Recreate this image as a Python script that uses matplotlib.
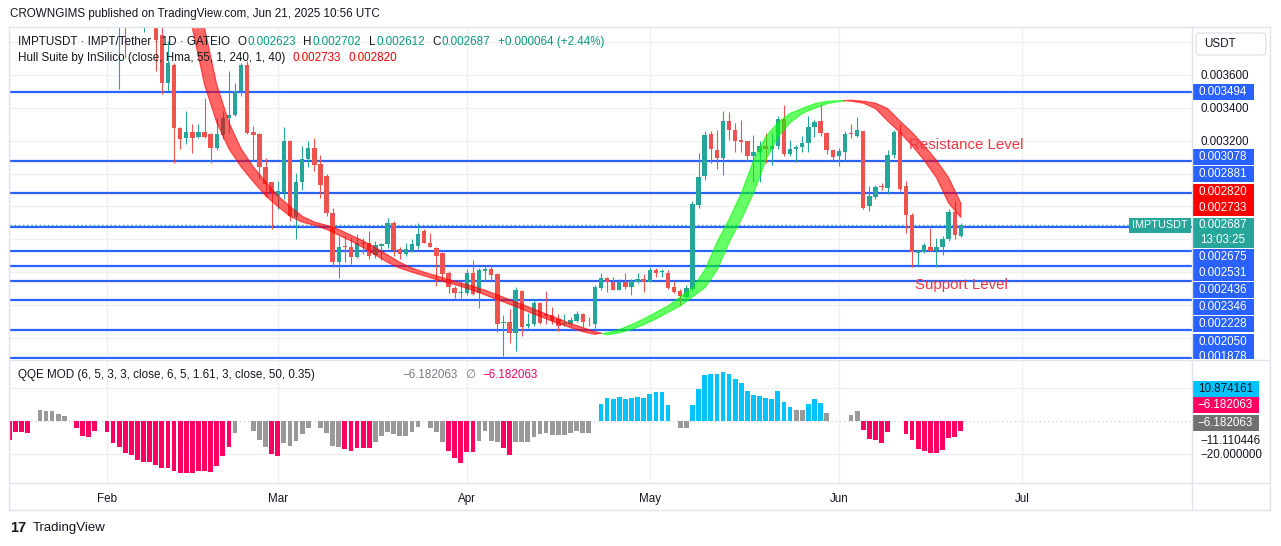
import numpy as np
import matplotlib.pyplot as plt
from matplotlib.patches import Rectangle, FancyBboxPatch

plt.rcParams['font.family'] = ['Liberation Sans', 'DejaVu Sans']

# --- data (days counted from 1 Feb 2025, prices in 1e-6 USDT) ---
candle_days = np.arange(2, 141)
opens = [3950, 4050, 3950, 4100, 4000, 4060, 4000, 3844, 3552, 3663,
         3279, 3214, 3254, 3222, 3254, 3238, 3156, 3235, 3335, 3356,
         3501, 3663, 3254, 3238, 3041, 2946, 2865, 2885, 3198, 2738,
         2946, 3087, 3158, 3055, 2984, 2762, 2463, 2562, 2556, 2493,
         2580, 2576, 2503, 2560, 2570, 2697, 2540, 2509, 2535, 2560,
         2651, 2580, 2550, 2519, 2394, 2303, 2273, 2273, 2394, 2273,
         2408, 2418, 2388, 2091, 2099, 2030, 2287, 2075, 2085, 2212,
         2146, 2140, 2115, 2085, 2085, 2105, 2146, 2099, 2085, 2301,
         2362, 2342, 2293, 2342, 2307, 2342, 2358, 2342, 2414, 2402,
         2398, 2307, 2287, 2247, 2297, 2806, 2984, 3242, 3145, 3095,
         3321, 3267, 3202, 3196, 3105, 3129, 3170, 3150, 3166, 3331,
         3121, 3150, 3160, 3186, 3283, 3317, 3247, 3142, 3105, 3129,
         3247, 3230, 3256, 2802, 2859, 2923, 2913, 3115, 3250, 2927,
         2746, 2519, 2523, 2556, 2535, 2556, 2600, 2768, 2623]
highs = [4100, 4150, 4200, 4250, 4100, 4150, 4020, 3900, 3804, 3673,
         3285, 3380, 3299, 3303, 3461, 3245, 3339, 3380, 3626, 3552,
         3673, 3683, 3289, 3245, 3097, 2950, 2956, 3283, 3205, 3006,
         3168, 3198, 3218, 3115, 2995, 2790, 2617, 2620, 2610, 2630,
         2610, 2649, 2590, 2576, 2732, 2711, 2556, 2576, 2600, 2697,
         2664, 2636, 2556, 2525, 2408, 2317, 2338, 2418, 2475, 2424,
         2442, 2442, 2392, 2140, 2176, 2307, 2293, 2152, 2236, 2220,
         2287, 2186, 2146, 2146, 2125, 2166, 2152, 2125, 2321, 2398,
         2368, 2368, 2358, 2392, 2358, 2398, 2388, 2434, 2428, 2418,
         2414, 2347, 2297, 2321, 2832, 3125, 3256, 3256, 3267, 3378,
         3372, 3307, 3327, 3200, 3236, 3196, 3247, 3247, 3347, 3418,
         3206, 3176, 3230, 3352, 3323, 3424, 3250, 3150, 3156, 3256,
         3303, 3344, 3260, 2923, 2933, 2944, 3142, 3267, 3303, 2953,
         2758, 2535, 2580, 2671, 2610, 2617, 2782, 2832, 2702]
lows = [3511, 3703, 3900, 3920, 3860, 3950, 3624, 3481, 3501, 3067,
        3147, 3178, 3127, 3214, 3218, 3067, 3144, 3208, 3249, 3350,
        3471, 3238, 3077, 2966, 2855, 2663, 2784, 2844, 2713, 2602,
        2901, 3041, 3016, 2853, 2742, 2429, 2362, 2463, 2449, 2489,
        2509, 2479, 2489, 2475, 2550, 2499, 2479, 2499, 2523, 2540,
        2576, 2553, 2313, 2347, 2273, 2241, 2241, 2261, 2261, 2180,
        2347, 2353, 2038, 1893, 1970, 1923, 2010, 2059, 2075, 2085,
        2085, 2085, 2044, 2075, 2075, 2095, 2065, 2075, 2059, 2293,
        2277, 2290, 2290, 2297, 2261, 2334, 2277, 2338, 2368, 2368,
        2297, 2273, 2200, 2236, 2293, 2792, 2960, 3065, 3029, 2994,
        3206, 3129, 3129, 3075, 2947, 2947, 3065, 3049, 3150, 3109,
        3105, 3069, 3129, 3129, 3222, 3230, 3121, 3085, 3044, 3075,
        3216, 3222, 2786, 2772, 2843, 2899, 2873, 3095, 2893, 2640,
        2429, 2442, 2515, 2526, 2434, 2503, 2590, 2600, 2612]
closes = [4050, 3950, 4100, 4000, 4060, 4000, 3814, 3552, 3673, 3279,
          3208, 3254, 3219, 3254, 3222, 3158, 3238, 3339, 3356, 3501,
          3663, 3249, 3235, 3041, 2936, 2885, 2895, 3198, 2744, 2946,
          3091, 3158, 3053, 2933, 2762, 2459, 2556, 2556, 2495, 2580,
          2570, 2499, 2564, 2570, 2701, 2535, 2509, 2540, 2570, 2630,
          2580, 2556, 2499, 2388, 2307, 2273, 2281, 2394, 2267, 2416,
          2418, 2382, 2085, 2095, 2030, 2293, 2065, 2085, 2212, 2091,
          2136, 2105, 2075, 2091, 2111, 2146, 2095, 2095, 2307, 2362,
          2342, 2293, 2342, 2307, 2347, 2358, 2342, 2414, 2398, 2404,
          2301, 2281, 2253, 2301, 2812, 2980, 3236, 3150, 3095, 3321,
          3262, 3196, 3194, 3109, 3129, 3170, 3150, 3170, 3331, 3121,
          3150, 3162, 3186, 3283, 3311, 3247, 3142, 3101, 3135, 3242,
          3242, 3262, 2792, 2863, 2919, 2917, 3115, 3250, 2907, 2746,
          2524, 2529, 2564, 2529, 2556, 2604, 2768, 2624, 2687]

# Hull Suite line, read every second day
hull_days = np.arange(12, 141, 2)
hull_vals = [4150, 3885, 3540, 3310, 3150, 3040, 2950, 2865, 2800, 2740,
             2705, 2685, 2660, 2625, 2590, 2550, 2505, 2460, 2425, 2400,
             2378, 2355, 2335, 2314, 2290, 2262, 2233, 2205, 2176, 2145,
             2117, 2088, 2063, 2038, 2022, 2035, 2055, 2085, 2120, 2160,
             2200, 2255, 2310, 2420, 2590, 2730, 2890, 3090, 3230, 3315,
             3370, 3400, 3428, 3442, 3446, 3440, 3428, 3395, 3320, 3250,
             3170, 3080, 2975, 2820, 2733]

levels = [3494, 3078, 2881, 2675, 2531, 2436, 2346, 2228, 2050, 1878]

# QQE MOD histogram (0 = no bar)
qqe_days = np.arange(-16, 141)
qqe_vals = [-11.4, -6.4, -6.4, -7.0, 0, 6.6, 6.2, 6.2, 4.2, 3.0,
            0, -4.4, -9.0, -10.0, -5.8, 0, -6.5, -13.5, -16.0, -19.2,
            -20.6, -23.6, -24.6, -24.6, -26.7, -28.7, -28.7, -30.3, -31.3, -31.3,
            -31.3, -30.3, -30.3, -30.7, -27.3, -21.2, -15.6, -7.5, 0, 0,
            -6.0, -11.5, -16.0, -20.2, -21.2, -13.5, -15.0, -12.0, -7.9, -4.4,
            0, -4.4, -7.5, -15.0, -16.0, -17.2, -18.0, -16.6, -16.6, -16.6,
            -12.5, -9.0, -6.5, -7.9, -9.0, -9.0, -6.5, -3.4, 0, -4.4,
            -6.5, -12.5, -18.0, -22.6, -25.3, -18.6, -18.6, -12.0, -6.0, -12.0,
            -12.5, -16.6, -20.6, -12.9, -12.9, -12.5, -9.5, -7.9, -7.5, -8.5,
            -8.5, -8.5, -7.5, -6.0, -7.0, -7.5, 0, 10.3, 14.0, 13.1,
            14.7, 13.1, 13.7, 14.3, 13.7, 16.2, 17.4, 17.4, 9.7, 0,
            -4.0, -4.0, 9.7, 19.4, 27.7, 28.7, 28.3, 29.7, 28.5, 25.5,
            23.2, 18.4, 15.8, 15.4, 14.0, 13.5, 18.4, 11.7, 8.7, 6.9,
            6.9, 10.3, 13.1, 11.1, 5.1, 0, 0, 0, 3.6, 6.3,
            -5.3, -10.9, -11.7, -13.1, -6.5, 0, 0, -7.7, -11.5, -17.2,
            -18.2, -19.4, -19.4, -17.4, -10.1, -9.5, -6.182063]
qqe_cats = ("pppp-ggggg" "-pppp-pppp" "pppppppppp" "pppppppg--" "gggppggggg"
            "-ggggppppp" "gggggggg-g" "ggpppppggg" "gppggggggg" "gggggg-bbb"
            "bbbbbbbbb-" "ggbbbbbbbb" "bbbbbbbbbg" "gbbbg---gg" "ppppp--ppp"
            "ppppppp")

month_days = [0, 28, 59, 89, 120, 150]
month_labels = ['Feb', 'Mar', 'Apr', 'May', 'Jun', 'Jul']

# --- colours ---
UP, DOWN = '#26A69A', '#EF5350'
BLUE = '#2962FF'
GRID = '#F0F0F0'
BORDER = '#E0E3EB'
TXT = '#131722'
TEAL = '#089981'
qqe_colors = {'p': '#FF0062', 'g': '#999999', 'b': '#00C3FF', '-': 'none'}
FS = 8.4

W, H = 1281, 546
fig = plt.figure(figsize=(W / 100, H / 100), dpi=100)


def box(px0, py0, px1, py1):
    return [px0 / W, 1 - py1 / H, (px1 - px0) / W, (py1 - py0) / H]


# --- price pane ---
ax = fig.add_axes(box(10, 28, 1192, 359))
ax.set_xlim(-15.9, 177.9)
ax.set_ylim(1872e-6, 3885e-6)
for s in ax.spines.values():
    s.set_visible(False)
ax.set_axisbelow(True)
ax.set_xticks(month_days)
ax.set_yticks(np.arange(2000, 3900, 200) * 1e-6)
ax.set_yticklabels(['0.%06d' % v if 3200 <= v <= 3600 else ''
                    for v in range(2000, 3900, 200)])
ax.yaxis.tick_right()
ax.tick_params(axis='y', length=0, pad=6, labelsize=FS, labelcolor=TXT)
ax.tick_params(axis='x', length=0, labelbottom=False)
ax.grid(True, color=GRID, lw=1)

for lv in levels:
    ax.axhline(lv * 1e-6, color=BLUE, lw=1.6, zorder=1)
ax.axhline(2687e-6, xmax=(1129 - 10) / 1182, color=UP, lw=1,
           ls=(0, (1, 2)), zorder=1.5)

o = np.array(opens) * 1e-6
hi = np.array(highs) * 1e-6
lo = np.array(lows) * 1e-6
c = np.array(closes) * 1e-6
cols = np.where(c >= o, UP, DOWN)
ax.vlines(candle_days, lo, hi, colors=cols, lw=0.8, zorder=2)
ax.bar(candle_days, np.maximum(np.abs(c - o), 4e-6), bottom=np.minimum(o, c),
       width=0.72, color=cols, lw=0, zorder=3)

hv = np.array(hull_vals) * 1e-6
hx, h_now, h_lag = hull_days[1:], hv[1:], hv[:-1]
rising = h_now >= h_lag
ax.fill_between(hx, h_now, h_lag, where=rising, interpolate=True,
                color='#00FF00', alpha=0.6, lw=0.9, zorder=4)
ax.fill_between(hx, h_now, h_lag, where=~rising, interpolate=True,
                color='#FF0000', alpha=0.6, lw=0.9, zorder=4)

ax.text(131.5, 3174e-6, 'Resistance Level', color='#F23645', fontsize=10.8,
        va='center', zorder=6)
ax.text(132.5, 2322e-6, 'Support Level', color='#F23645', fontsize=10.8,
        va='center', zorder=6)

# --- QQE pane ---
axq = fig.add_axes(box(10, 361, 1192, 483))
axq.set_xlim(-15.9, 177.9)
axq.set_ylim(-37.6, 36.4)
for s in axq.spines.values():
    s.set_visible(False)
axq.set_axisbelow(True)
axq.set_xticks(month_days)
axq.set_xticklabels(month_labels)
axq.tick_params(axis='x', length=0, pad=7, labelsize=FS, labelcolor=TXT)
axq.grid(True, axis='x', color=GRID, lw=1)
axq.yaxis.tick_right()
axq.set_yticks([-20, -11.110446])
axq.set_yticklabels(['\u221220.000000', '\u221211.110446'])
axq.tick_params(axis='y', length=0, pad=6, labelsize=FS, labelcolor=TXT)
for g in (20, -20):
    axq.axhline(g, color=GRID, lw=1, zorder=0)
axq.axhline(0, color='#D1D4DC', lw=1, ls=(0, (1, 2)), zorder=0.5)
axq.bar(qqe_days, qqe_vals, width=0.78,
        color=[qqe_colors[k] for k in qqe_cats], lw=0, zorder=2)

# --- overlay in pixel coordinates for frame, legends and scale tags ---
ov = fig.add_axes([0, 0, 1, 1])
ov.set_xlim(0, W)
ov.set_ylim(H, 0)
ov.axis('off')

for (x0, y0, x1, y1) in [(9, 27, 1270, 27), (9, 510, 1270, 510), (9, 27, 9, 510),
                         (1270, 27, 1270, 510), (1192, 27, 1192, 510),
                         (9, 360, 1270, 360), (9, 483, 1270, 483)]:
    ov.plot([x0, x1], [y0, y1], color=BORDER, lw=1)


def chain(x, y, parts):
    # parts: (text, colour, gap in points before it)
    t = ov.text(x, y, parts[0][0], color=parts[0][1], fontsize=FS, va='center')
    for s, col, gap in parts[1:]:
        t = ov.annotate(s, xy=(1, 0.5), xycoords=t, xytext=(gap, 0),
                        textcoords='offset points', va='center', ha='left',
                        color=col, fontsize=FS)


ov.text(10, 14, 'CROWNGIMS published on TradingView.com, Jun 21, 2025 10:56 UTC',
        fontsize=FS, color=TXT, va='center')

chain(18, 42, [('IMPTUSDT \u00b7 IMPT/Tether \u00b7 1D \u00b7 GATEIO', TXT),
               ('O', TXT, 5.5), ('0.002623', TEAL, 0.5),
               ('H', TXT, 5.5), ('0.002702', TEAL, 0.5),
               ('L', TXT, 5.5), ('0.002612', TEAL, 0.5),
               ('C', TXT, 5.5), ('0.002687', TEAL, 0.5),
               ('+0.000064 (+2.44%)', TEAL, 5.5)])
chain(18, 58, [('Hull Suite by InSilico (close, Hma, 55, 1, 240, 1, 40)', TXT),
               ('0.002733', '#FF0000', 5.5), ('0.002820', '#FF0000', 5.5)])
ov.text(18, 375, 'QQE MOD (6, 5, 3, 3, close, 6, 5, 1.61, 3, close, 50, 0.35)',
        fontsize=FS, color=TXT, va='center')
chain(402, 375, [('\u22126.182063', '#787B86'), ('\u2205', '#787B86', 5.5),
                 ('\u22126.182063', '#FF0062', 5.5)])

# price scale tags
ov.add_patch(FancyBboxPatch((1196, 33), 70, 22, boxstyle='round,pad=0,rounding_size=4',
                            fc='white', ec=BORDER, lw=1))
ov.text(1204, 44, 'USDT', fontsize=FS, color=TXT, va='center')

tags = [(92.3, '0.003494', BLUE), (156.7, '0.003078', BLUE),
        (174.3, '0.002881', BLUE), (191.7, '0.002820', '#FF0000'),
        (208.3, '0.002733', '#FF0000'), (256.7, '0.002675', BLUE),
        (273.3, '0.002531', BLUE), (290.0, '0.002436', BLUE),
        (307.3, '0.002346', BLUE), (324.3, '0.002228', BLUE),
        (341.7, '0.002050', BLUE), (357.5, '0.001878', BLUE)]
for py, txt, fc in tags:
    r = Rectangle((1192, py - 8), 62, 16, fc=fc, ec='none')
    ov.add_patch(r)
    clip = Rectangle((1192, 28), 62, 331, transform=ov.transData)
    r.set_clip_path(clip)
    t = ov.text(1223, py, txt, fontsize=FS, color='white', ha='center', va='center')
    t.set_clip_path(clip)

ov.add_patch(Rectangle((1192, 217.5), 62, 30, fc=UP, ec='none'))
ov.text(1223, 225, '0.002687', fontsize=FS, color='white', ha='center', va='center')
ov.text(1223, 240, '13:03:25', fontsize=FS, color='white', ha='center', va='center')
ov.add_patch(Rectangle((1129, 218), 62, 15, fc=UP, ec='none'))
ov.text(1160, 225.5, 'IMPTUSDT', fontsize=7.8, color='white', ha='center', va='center')

for py, txt, fc, tc in [(388.5, '10.874161', '#00C3FF', TXT),
                        (405.0, '\u22126.182063', '#FF0062', 'white'),
                        (422.5, '\u22126.182063', '#707070', 'white')]:
    ov.add_patch(Rectangle((1192, py - 8), 67, 16, fc=fc, ec='none'))
    ov.text(1225.5, py, txt, fontsize=FS, color=tc, ha='center', va='center')

# footer logo
ov.text(10, 528, '17', fontsize=10.5, fontweight='heavy', color=TXT, va='center')
ov.text(33, 528, 'TradingView', fontsize=9.5, color=TXT, va='center')

fig.savefig('out.png', dpi=100)
